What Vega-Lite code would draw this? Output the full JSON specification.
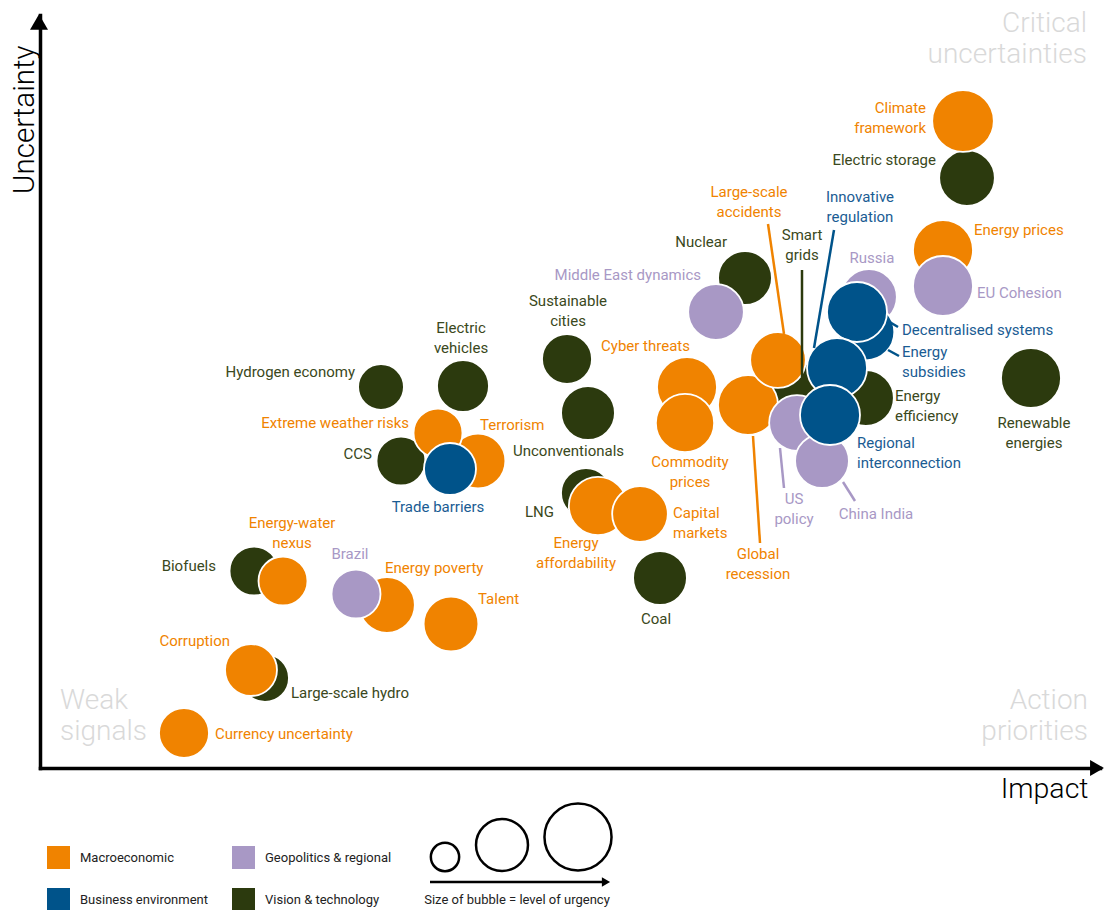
{
  "$schema": "https://vega.github.io/schema/vega-lite/v6.json",
  "width": 1060,
  "height": 753,
  "autosize": {"type": "none"},
  "padding": {"left": 40, "top": 15, "right": 5, "bottom": 142},
  "background": "white",
  "config": {"view": {"stroke": null}, "font": "Roboto, sans-serif"},
  "datasets": {
    "bubbles": [
      {"name": "Smart grids", "category": "Vision & technology", "impact": 760, "uncertainty": 378, "urgency": 29},
      {"name": "Energy efficiency", "category": "Vision & technology", "impact": 826, "uncertainty": 370, "urgency": 31},
      {"name": "Russia", "category": "Geopolitics & regional", "impact": 829, "uncertainty": 471, "urgency": 31},
      {"name": "Energy subsidies", "category": "Business environment", "impact": 826, "uncertainty": 436, "urgency": 32},
      {"name": "Decentralised systems", "category": "Business environment", "impact": 817, "uncertainty": 456, "urgency": 36},
      {"name": "Global recession", "category": "Macroeconomic", "impact": 708, "uncertainty": 363, "urgency": 36},
      {"name": "Large-scale accidents", "category": "Macroeconomic", "impact": 738, "uncertainty": 408, "urgency": 31},
      {"name": "US policy", "category": "Geopolitics & regional", "impact": 757, "uncertainty": 345, "urgency": 31},
      {"name": "China India", "category": "Geopolitics & regional", "impact": 782, "uncertainty": 307, "urgency": 29},
      {"name": "Innovative regulation", "category": "Business environment", "impact": 797, "uncertainty": 400, "urgency": 36},
      {"name": "Regional interconnection", "category": "Business environment", "impact": 790, "uncertainty": 353, "urgency": 36},
      {"name": "Nuclear", "category": "Vision & technology", "impact": 705, "uncertainty": 490, "urgency": 29},
      {"name": "Middle East dynamics", "category": "Geopolitics & regional", "impact": 676, "uncertainty": 456, "urgency": 31},
      {"name": "Cyber threats", "category": "Macroeconomic", "impact": 647, "uncertainty": 381, "urgency": 36},
      {"name": "Commodity prices", "category": "Macroeconomic", "impact": 645, "uncertainty": 345, "urgency": 34},
      {"name": "Electric storage", "category": "Vision & technology", "impact": 927, "uncertainty": 590, "urgency": 31},
      {"name": "Climate framework", "category": "Macroeconomic", "impact": 923, "uncertainty": 647, "urgency": 38},
      {"name": "Energy prices", "category": "Macroeconomic", "impact": 903, "uncertainty": 518, "urgency": 36},
      {"name": "EU Cohesion", "category": "Geopolitics & regional", "impact": 903, "uncertainty": 482, "urgency": 36},
      {"name": "Renewable energies", "category": "Vision & technology", "impact": 991, "uncertainty": 390, "urgency": 36},
      {"name": "CCS", "category": "Vision & technology", "impact": 361, "uncertainty": 307, "urgency": 24},
      {"name": "Terrorism", "category": "Macroeconomic", "impact": 438, "uncertainty": 307, "urgency": 30},
      {"name": "Extreme weather risks", "category": "Macroeconomic", "impact": 398, "uncertainty": 335, "urgency": 24},
      {"name": "Trade barriers", "category": "Business environment", "impact": 410, "uncertainty": 299, "urgency": 27},
      {"name": "Hydrogen economy", "category": "Vision & technology", "impact": 341, "uncertainty": 381, "urgency": 21},
      {"name": "Electric vehicles", "category": "Vision & technology", "impact": 423, "uncertainty": 382, "urgency": 27},
      {"name": "Sustainable cities", "category": "Vision & technology", "impact": 527, "uncertainty": 409, "urgency": 25},
      {"name": "Unconventionals", "category": "Vision & technology", "impact": 548, "uncertainty": 355, "urgency": 29},
      {"name": "LNG", "category": "Vision & technology", "impact": 546, "uncertainty": 275, "urgency": 25},
      {"name": "Energy affordability", "category": "Macroeconomic", "impact": 558, "uncertainty": 262, "urgency": 34},
      {"name": "Capital markets", "category": "Macroeconomic", "impact": 600, "uncertainty": 254, "urgency": 31},
      {"name": "Coal", "category": "Vision & technology", "impact": 620, "uncertainty": 190, "urgency": 29},
      {"name": "Biofuels", "category": "Vision & technology", "impact": 214, "uncertainty": 197, "urgency": 24},
      {"name": "Energy-water nexus", "category": "Macroeconomic", "impact": 243, "uncertainty": 187, "urgency": 24},
      {"name": "Energy poverty", "category": "Macroeconomic", "impact": 347, "uncertainty": 163, "urgency": 31},
      {"name": "Brazil", "category": "Geopolitics & regional", "impact": 316, "uncertainty": 174, "urgency": 24},
      {"name": "Talent", "category": "Macroeconomic", "impact": 411, "uncertainty": 144, "urgency": 30},
      {"name": "Large-scale hydro", "category": "Vision & technology", "impact": 225, "uncertainty": 90, "urgency": 23},
      {"name": "Corruption", "category": "Macroeconomic", "impact": 211, "uncertainty": 98, "urgency": 27},
      {"name": "Currency uncertainty", "category": "Macroeconomic", "impact": 144, "uncertainty": 35, "urgency": 25}
    ],
    "labels": [
      {"text": "Climate\nframework", "category": "Macroeconomic", "side": "right", "impact": 886, "uncertainty": 660},
      {"text": "Energy prices", "category": "Macroeconomic", "side": "left", "impact": 934, "uncertainty": 538},
      {"text": "Cyber threats", "category": "Macroeconomic", "side": "right", "impact": 650, "uncertainty": 422},
      {"text": "Commodity\nprices", "category": "Macroeconomic", "side": "center", "impact": 650, "uncertainty": 306},
      {"text": "Large-scale\naccidents", "category": "Macroeconomic", "side": "center", "impact": 709, "uncertainty": 576},
      {"text": "Global\nrecession", "category": "Macroeconomic", "side": "center", "impact": 718, "uncertainty": 214},
      {"text": "Extreme weather risks", "category": "Macroeconomic", "side": "right", "impact": 369, "uncertainty": 345},
      {"text": "Terrorism", "category": "Macroeconomic", "side": "left", "impact": 440, "uncertainty": 343},
      {"text": "Energy\naffordability", "category": "Macroeconomic", "side": "center", "impact": 536, "uncertainty": 225},
      {"text": "Capital\nmarkets", "category": "Macroeconomic", "side": "left", "impact": 633, "uncertainty": 255},
      {"text": "Energy-water\nnexus", "category": "Macroeconomic", "side": "center", "impact": 252, "uncertainty": 245},
      {"text": "Energy poverty", "category": "Macroeconomic", "side": "left", "impact": 345, "uncertainty": 200},
      {"text": "Talent", "category": "Macroeconomic", "side": "left", "impact": 438, "uncertainty": 169},
      {"text": "Corruption", "category": "Macroeconomic", "side": "right", "impact": 190, "uncertainty": 127},
      {"text": "Currency uncertainty", "category": "Macroeconomic", "side": "left", "impact": 175, "uncertainty": 34},
      {"text": "Electric storage", "category": "Vision & technology", "side": "right", "impact": 896, "uncertainty": 608},
      {"text": "Nuclear", "category": "Vision & technology", "side": "right", "impact": 687, "uncertainty": 526},
      {"text": "Smart\ngrids", "category": "Vision & technology", "side": "center", "impact": 762, "uncertainty": 533},
      {"text": "Sustainable\ncities", "category": "Vision & technology", "side": "center", "impact": 528, "uncertainty": 467},
      {"text": "Electric\nvehicles", "category": "Vision & technology", "side": "center", "impact": 421, "uncertainty": 440},
      {"text": "Hydrogen economy", "category": "Vision & technology", "side": "right", "impact": 315, "uncertainty": 396},
      {"text": "CCS", "category": "Vision & technology", "side": "right", "impact": 332, "uncertainty": 314},
      {"text": "Unconventionals", "category": "Vision & technology", "side": "left", "impact": 473, "uncertainty": 317},
      {"text": "LNG", "category": "Vision & technology", "side": "right", "impact": 514, "uncertainty": 256},
      {"text": "Biofuels", "category": "Vision & technology", "side": "right", "impact": 176, "uncertainty": 202},
      {"text": "Large-scale hydro", "category": "Vision & technology", "side": "left", "impact": 251, "uncertainty": 75},
      {"text": "Coal", "category": "Vision & technology", "side": "center", "impact": 616, "uncertainty": 149},
      {"text": "Energy\nefficiency", "category": "Vision & technology", "side": "left", "impact": 855, "uncertainty": 372},
      {"text": "Renewable\nenergies", "category": "Vision & technology", "side": "center", "impact": 994, "uncertainty": 345},
      {"text": "Middle East dynamics", "category": "Geopolitics & regional", "side": "right", "impact": 661, "uncertainty": 493},
      {"text": "Russia", "category": "Geopolitics & regional", "side": "center", "impact": 832, "uncertainty": 510},
      {"text": "EU Cohesion", "category": "Geopolitics & regional", "side": "left", "impact": 937, "uncertainty": 475},
      {"text": "US\npolicy", "category": "Geopolitics & regional", "side": "center", "impact": 754, "uncertainty": 269},
      {"text": "China India", "category": "Geopolitics & regional", "side": "center", "impact": 836, "uncertainty": 254},
      {"text": "Brazil", "category": "Geopolitics & regional", "side": "center", "impact": 310, "uncertainty": 214},
      {"text": "Innovative\nregulation", "category": "Business environment", "side": "center", "impact": 820, "uncertainty": 571},
      {"text": "Decentralised systems", "category": "Business environment", "side": "left", "impact": 862, "uncertainty": 438},
      {"text": "Energy\nsubsidies", "category": "Business environment", "side": "left", "impact": 862, "uncertainty": 416},
      {"text": "Regional\ninterconnection", "category": "Business environment", "side": "left", "impact": 817, "uncertainty": 325},
      {"text": "Trade barriers", "category": "Business environment", "side": "center", "impact": 398, "uncertainty": 261}
    ],
    "leaders": [
      {"name": "Large-scale accidents", "category": "Macroeconomic", "impact": 728, "uncertainty": 544, "impact2": 744, "uncertainty2": 434},
      {"name": "Innovative regulation", "category": "Business environment", "impact": 794, "uncertainty": 538, "impact2": 774, "uncertainty2": 420},
      {"name": "Smart grids", "category": "Vision & technology", "impact": 762, "uncertainty": 498, "impact2": 762, "uncertainty2": 391},
      {"name": "Decentralised systems", "category": "Business environment", "impact": 848, "uncertainty": 447, "impact2": 858, "uncertainty2": 441},
      {"name": "Energy subsidies", "category": "Business environment", "impact": 848, "uncertainty": 418, "impact2": 859, "uncertainty2": 412},
      {"name": "US policy", "category": "Geopolitics & regional", "impact": 740, "uncertainty": 320, "impact2": 744, "uncertainty2": 280},
      {"name": "China India", "category": "Geopolitics & regional", "impact": 803, "uncertainty": 286, "impact2": 815, "uncertainty2": 267},
      {"name": "Global recession", "category": "Macroeconomic", "impact": 713, "uncertainty": 332, "impact2": 720, "uncertainty2": 225}
    ],
    "quadrants": [
      {"text": "Critical\nuncertainties", "side": "right", "impact": 1047, "uncertainty": 744},
      {"text": "Weak\nsignals", "side": "left", "impact": 20, "uncertainty": 67},
      {"text": "Action\npriorities", "side": "right", "impact": 1048, "uncertainty": 67}
    ],
    "sizeKey": [
      {"urgency": 8, "impact": 405, "uncertainty": -89},
      {"urgency": 27, "impact": 462, "uncertainty": -77},
      {"urgency": 45, "impact": 538, "uncertainty": -69}
    ]
  },
  "encoding": {
    "x": {
      "field": "impact", "type": "quantitative",
      "scale": {"domain": [0, 1060], "nice": false, "zero": false},
      "axis": {"title": "Impact", "ticks": false, "labels": false, "grid": false,
        "domainColor": "black", "domainWidth": 3.5, "domainCap": "square",
        "titleFont": "Roboto", "titleFontWeight": 300, "titleFontSize": 28.5, "titleColor": "black",
        "titleX": 1048, "titleY": 29, "titleAlign": "right", "titleBaseline": "alphabetic"}
    },
    "y": {
      "field": "uncertainty", "type": "quantitative",
      "scale": {"domain": [0, 753], "nice": false, "zero": false},
      "axis": {"title": "Uncertainty", "ticks": false, "labels": false, "grid": false,
        "domainColor": "black", "domainWidth": 3.5, "domainCap": "square",
        "titleFont": "Roboto", "titleFontWeight": 300, "titleFontSize": 29.5, "titleColor": "black",
        "titleAngle": -90, "titleX": -7, "titleY": 30, "titleAlign": "right", "titleBaseline": "alphabetic"}
    }
  },
  "layer": [
    {
      "data": {"name": "bubbles"},
      "mark": {"type": "point", "shape": "circle", "filled": true, "opacity": 1, "stroke": "white", "strokeWidth": 1.8},
      "encoding": {
        "color": {
          "field": "category", "type": "nominal",
          "scale": {"domain": ["Macroeconomic", "Business environment", "Geopolitics & regional", "Vision & technology"],
                    "range": ["#f08300", "#00538a", "#a898c5", "#2c3a0e"]},
          "legend": {"title": null, "orient": "none", "legendX": 7, "legendY": 831, "columns": 2,
            "symbolType": "square", "symbolSize": 529, "symbolStrokeWidth": 0, "symbolOpacity": 1,
            "labelFont": "Roboto", "labelFontSize": 13, "labelColor": "#222222", "labelOffset": 10,
            "columnPadding": 24, "rowPadding": 19, "padding": 0}
        },
        "size": {"field": "urgency", "type": "quantitative", "scale": {"type": "linear", "domain": [0, 50], "range": [0, 5000], "zero": true}, "legend": null}
      }
    },
    {
      "data": {"name": "leaders"},
      "mark": {"type": "rule", "strokeWidth": 2.5},
      "encoding": {
        "x2": {"field": "impact2"},
        "y2": {"field": "uncertainty2"},
        "stroke": {"field": "category", "type": "nominal",
          "scale": {"domain": ["Macroeconomic", "Geopolitics & regional", "Business environment", "Vision & technology"],
                    "range": ["#f08300", "#a898c5", "#00538a", "#2c3a0e"]},
          "legend": null}
      }
    },
    {
      "data": {"name": "labels"},
      "transform": [{"filter": "datum.side === 'left'"}],
      "mark": {"type": "text", "align": "left", "baseline": "middle", "fontSize": 15, "lineHeight": 20, "lineBreak": "\n"},
      "encoding": {
        "text": {"field": "text"},
        "fill": {"field": "category", "type": "nominal",
          "scale": {"domain": ["Macroeconomic", "Geopolitics & regional", "Business environment", "Vision & technology"],
                    "range": ["#f08300", "#a898c5", "#1a5c93", "#3a4820"]},
          "legend": null}
      }
    },
    {
      "data": {"name": "labels"},
      "transform": [{"filter": "datum.side === 'right'"}],
      "mark": {"type": "text", "align": "right", "baseline": "middle", "fontSize": 15, "lineHeight": 20, "lineBreak": "\n"},
      "encoding": {
        "text": {"field": "text"},
        "fill": {"field": "category", "type": "nominal", "legend": null}
      }
    },
    {
      "data": {"name": "labels"},
      "transform": [{"filter": "datum.side === 'center'"}],
      "mark": {"type": "text", "align": "center", "baseline": "middle", "fontSize": 15, "lineHeight": 20, "lineBreak": "\n"},
      "encoding": {
        "text": {"field": "text"},
        "fill": {"field": "category", "type": "nominal", "legend": null}
      }
    },
    {
      "data": {"name": "quadrants"},
      "transform": [{"filter": "datum.side === 'right'"}],
      "mark": {"type": "text", "align": "right", "baseline": "middle", "font": "Roboto", "fontWeight": 300, "fontSize": 28, "lineHeight": 31, "lineBreak": "\n", "color": "#d9d9d9"},
      "encoding": {"text": {"field": "text"}}
    },
    {
      "data": {"name": "quadrants"},
      "transform": [{"filter": "datum.side === 'left'"}],
      "mark": {"type": "text", "align": "left", "baseline": "middle", "font": "Roboto", "fontWeight": 300, "fontSize": 28, "lineHeight": 31, "lineBreak": "\n", "color": "#d9d9d9"},
      "encoding": {"text": {"field": "text"}}
    },
    {
      "data": {"values": [{"impact": 1057, "uncertainty": 0}]},
      "mark": {"type": "point", "shape": "triangle-right", "filled": true, "color": "black", "opacity": 1, "size": 256},
      "encoding": {}
    },
    {
      "data": {"values": [{"impact": -1, "uncertainty": 746}]},
      "mark": {"type": "point", "shape": "triangle-up", "filled": true, "color": "black", "opacity": 1, "size": 324},
      "encoding": {}
    },
    {
      "data": {"name": "sizeKey"},
      "mark": {"type": "point", "shape": "circle", "filled": false, "color": "black", "opacity": 1, "strokeWidth": 2.5},
      "encoding": {
        "size": {"field": "urgency", "type": "quantitative", "legend": null}
      }
    },
    {
      "data": {"values": [{"impact": 390, "impact2": 562, "uncertainty": -114}]},
      "mark": {"type": "rule", "color": "black", "strokeWidth": 2.5},
      "encoding": {"x2": {"field": "impact2"}}
    },
    {
      "data": {"values": [{"impact": 566, "uncertainty": -114}]},
      "mark": {"type": "point", "shape": "triangle-right", "filled": true, "color": "black", "opacity": 1, "size": 90},
      "encoding": {}
    },
    {
      "data": {"values": [{"text": "Size of bubble = level of urgency", "impact": 477, "uncertainty": -132}]},
      "mark": {"type": "text", "align": "center", "baseline": "middle", "font": "Roboto", "fontSize": 13, "color": "#222222"},
      "encoding": {"text": {"field": "text"}}
    }
  ]
}
